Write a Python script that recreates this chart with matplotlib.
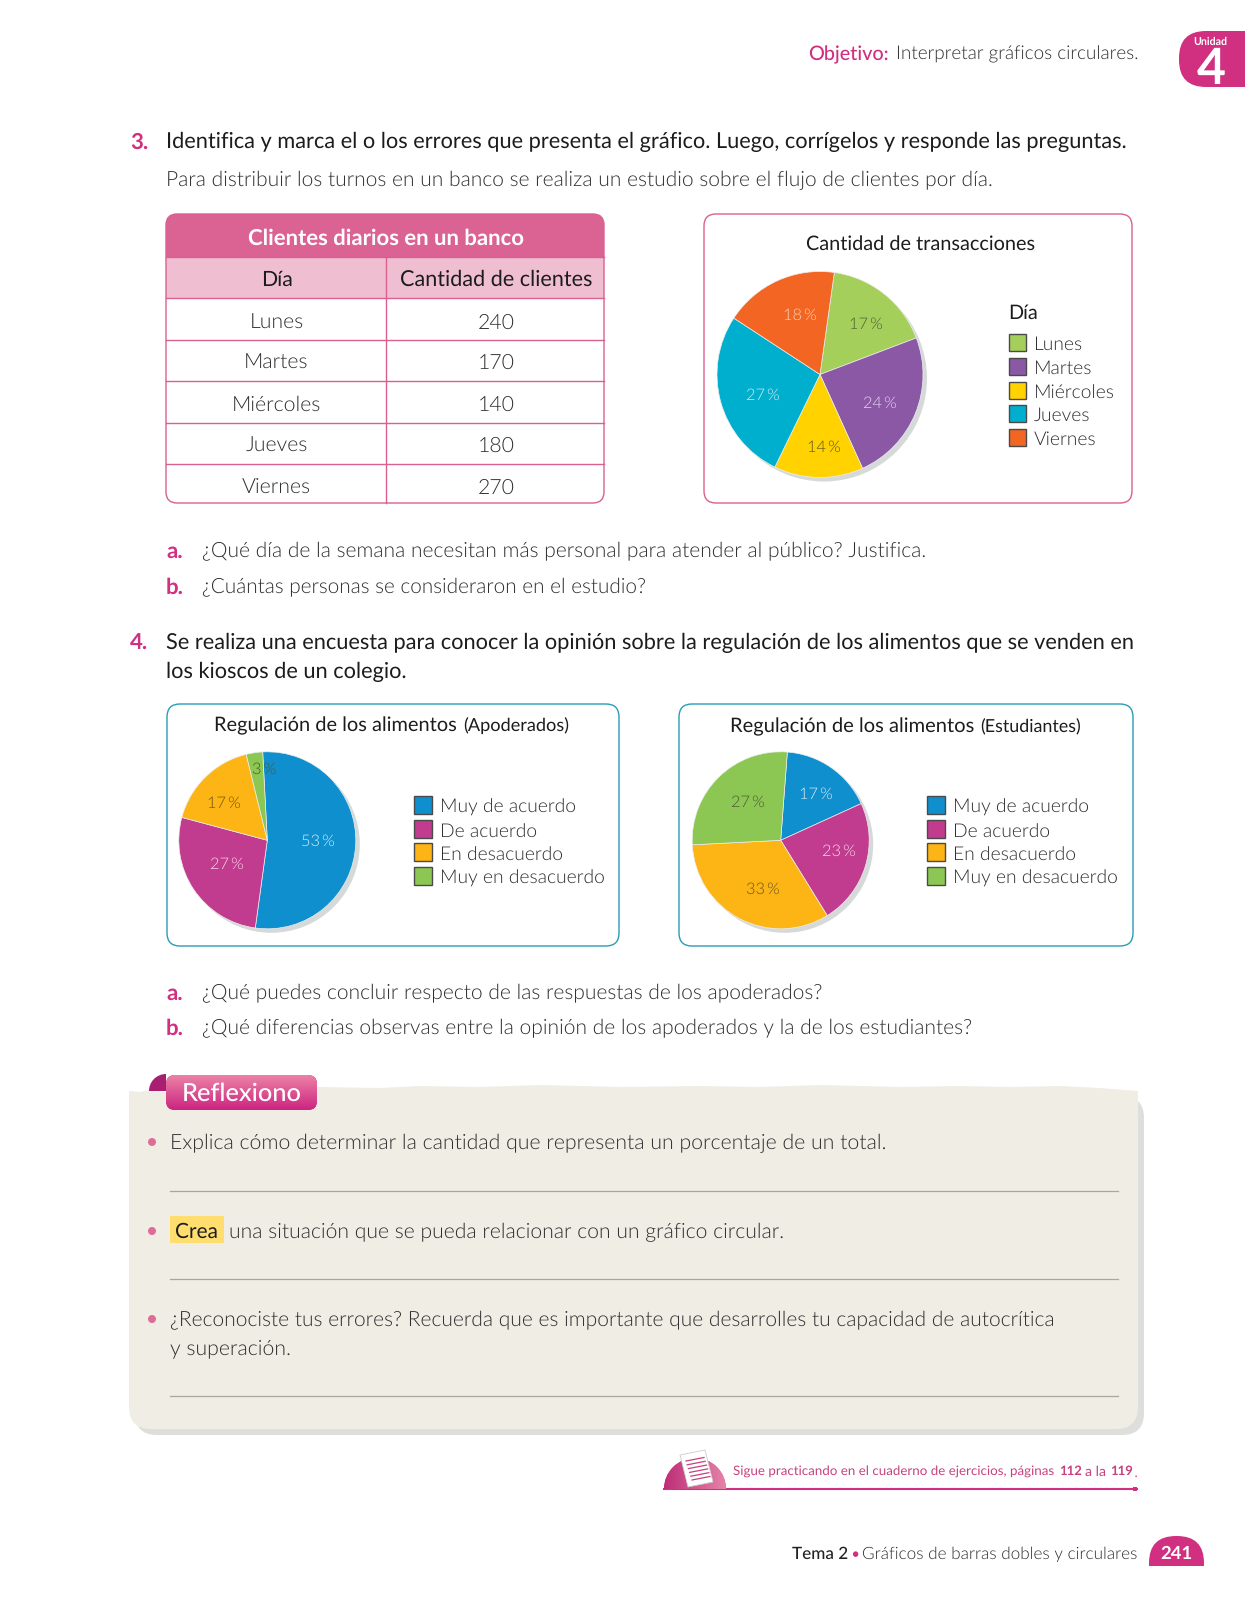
import numpy as np
import matplotlib
matplotlib.use('Agg')
import matplotlib.pyplot as plt
from matplotlib.patches import FancyBboxPatch, Rectangle, Circle, Polygon, Wedge

# tabla
tabla_titulo = 'Clientes diarios en un banco'
tabla_cols = ['Día', 'Cantidad de clientes']
dias = ['Lunes', 'Martes', 'Miércoles', 'Jueves', 'Viernes']
clientes = [240, 170, 140, 180, 270]

# graficos
transacciones = [17, 24, 14, 27, 18]
opciones = ['Muy de acuerdo', 'De acuerdo', 'En desacuerdo', 'Muy en desacuerdo']
apoderados = [53, 27, 17, 3]
estudiantes = [17, 23, 33, 27]

c_dias = ['#A5CF5B', '#8A58A4', '#FFD200', '#00AECE', '#F26522']
c_opc = ['#0F8FCE', '#C13B8E', '#FDB515', '#8CC653']

W, H = 1245, 1600
FONT = 'Lato'
ROSA = '#D0307F'
PINK2 = '#C8407F'
GRIS = '#2e2e2e'
NEGRO = '#1c1c1c'
LINEA = '#D9608F'
AZUL = '#2A9BB8'

plt.rcParams['text.hinting'] = 'no_hinting'
fig = plt.figure(figsize=(W / 100, H / 100), dpi=100)
ax = fig.add_axes([0, 0, 1, 1])
ax.set_xlim(0, W)
ax.set_ylim(H, 0)
ax.axis('off')
rend = fig.canvas.get_renderer()


def txt(x, y, s, x1=None, size=15.5, color=GRIS, weight=300, ha='left', fam=FONT, target=ax, z=6):
    # si viene x1 ajusta el tamaño para que el texto termine ahi
    dy = 1.5 if target is ax else 0
    t = target.text(x, y + dy, s, fontsize=size, color=color, fontweight=weight, ha=ha, va='center',
                    family=fam, zorder=z)
    if x1 is not None:
        for _ in range(3):
            w = t.get_window_extent(rend).width
            t.set_fontsize(t.get_fontsize() * (x1 - x) / w)
    return t


def caja(x0, y0, x1, y1, rad, fc='white', ec='none', lw=1.0, z=1):
    p = FancyBboxPatch((x0 + rad, y0 + rad), x1 - x0 - 2 * rad, y1 - y0 - 2 * rad,
                       boxstyle='round,pad=%f,rounding_size=%f' % (rad, rad),
                       fc=fc, ec=ec, lw=lw, zorder=z)
    ax.add_patch(p)
    return p


def degradado(patch, x0, y0, x1, y1, c_top, c_bot, horizontal=False, z=3):
    a = np.array(matplotlib.colors.to_rgb(c_top))
    b = np.array(matplotlib.colors.to_rgb(c_bot))
    n = np.linspace(0, 1, 60)[:, None]
    img = (a + (b - a) * n)[:, None, :]
    if horizontal:
        img = img.transpose(1, 0, 2)
    im = ax.imshow(img, extent=[x0, x1, y1, y0], aspect='auto', zorder=z)
    im.set_clip_path(patch)
    ax.set_xlim(0, W)
    ax.set_ylim(H, 0)


def torta(cx, cy, r, vals, cols, start, lab_xy, lab_col):
    ax.add_patch(Circle((cx + 4, cy + 4), r, fc='#D6D9D9', ec='none', zorder=2))
    s = 1.25 * r
    a = fig.add_axes([(cx - s) / W, 1 - (cy + s) / H, 2 * s / W, 2 * s / H], zorder=3)
    a.patch.set_alpha(0)
    a.pie(vals, colors=cols, startangle=start, counterclock=False,
          wedgeprops={'linewidth': 0.5, 'edgecolor': '#eeeeee'})
    for v, (lx, ly), c in zip(vals, lab_xy, lab_col):
        txt((lx - cx) / r, (cy - ly - 1) / r, '%d\u2009%%' % v, size=11.8, color=c, ha='center',
            fam=[FONT, 'DejaVu Sans'], target=a)


def leyenda(x, x_txt, ys, names, cols, w=17):
    for y, n, c in zip(ys, names, cols):
        ax.add_patch(Rectangle((x, y - w / 2), w, w, fc=c, ec='#4a4a4a', lw=1, zorder=2))
        txt(x_txt, y + 1, n, size=13.9)


# encabezado
txt(808, 53, 'Objetivo:', 889, color=ROSA, weight=500)
txt(896, 53, 'Interpretar gráficos circulares.', 1138)
caja(1179, 31, 1290, 87, 27, fc=ROSA)
txt(1193, 40, 'Unidad', 1227, size=7, color='white', weight='bold')
txt(1211, 68, '4', size=36, color='white', weight='bold', ha='center')

# pregunta 3
txt(130, 141, '3.', size=16, color=ROSA, weight='bold')
txt(166, 140.5, 'Identifica y marca el o los errores que presenta el gráfico. Luego, corrígelos y responde las preguntas.',
    1126, color=NEGRO, weight=400)
txt(166, 179, 'Para distribuir los turnos en un banco se realiza un estudio sobre el flujo de clientes por día.', 993)

# tabla
filas = [257, 298, 340, 381, 423, 464, 503]
filas_txt = [321.5, 362, 403.5, 444.5, 486.5]
caja(166, 214, 604, 503, 11, fc='white', z=1)
h1 = Rectangle((166, 214), 438, 43, fc='#DB6394', ec='none', zorder=1.5)
ax.add_patch(h1)
h1.set_clip_path(caja(166, 214, 604, 503, 11, fc='none', ec='none'))
ax.add_patch(Rectangle((166, 257), 438, 41, fc='#EFBFD1', ec='none', zorder=1.5))
for y in filas[:-1]:
    ax.plot([166, 604], [y, y], color=LINEA, lw=1.0, zorder=2)
ax.plot([386, 386], [257, 503], color=LINEA, lw=1.0, zorder=2)
caja(166, 214, 604, 503, 11, fc='none', ec=LINEA, lw=1.0, z=2)
txt(248, 237, tabla_titulo, 524, color='white', weight='bold')
txt(276.5, 278, tabla_cols[0], size=15.3, ha='center', weight=400, color=NEGRO)
txt(399.5, 278, tabla_cols[1], 592, weight=400, color=NEGRO)
for yc, d, c in zip(filas_txt, dias, clientes):
    txt(276.5, yc, d, size=15.3, ha='center')
    txt(496, yc, str(c), size=15.3, ha='center')

# grafico transacciones
caja(704, 214, 1132, 503, 12, ec=LINEA)
txt(805.6, 243, 'Cantidad de transacciones', 1034.5, weight=400, color=NEGRO)
torta(820, 374.5, 103, transacciones, c_dias, 82,
      [(866, 323), (880, 402), (824, 446), (763, 394), (800, 314)],
      ['#4d5c35', '#E6D5EF', '#5c5320', '#CFEFF6', '#FBD3B5'])
txt(1008, 312, 'Día', size=14.3, weight=400, color=NEGRO)
leyenda(1009, 1034, [342, 366, 390, 413, 437], dias, c_dias)

txt(166, 550, 'a.', size=16, color=ROSA, weight='bold')
txt(202, 550, '¿Qué día de la semana necesitan más personal para atender al público? Justifica.', 928)
txt(166, 586, 'b.', size=16, color=ROSA, weight='bold')
txt(202, 586, '¿Cuántas personas se consideraron en el estudio?', 648)

# pregunta 4
txt(130, 642, '4.', size=16, color=ROSA, weight='bold')
txt(166, 641.5, 'Se realiza una encuesta para conocer la opinión sobre la regulación de los alimentos que se venden en',
    1133, color=NEGRO, weight=400)
txt(166, 670.5, 'los kioscos de un colegio.', 407, color=NEGRO, weight=400)

caja(167, 704, 619, 946, 13, ec=AZUL)
txt(214, 724, 'Regulación de los alimentos', 457, weight=400, color=NEGRO)
txt(463, 725, '(Apoderados)', 569, weight=400, color=NEGRO)
torta(267.3, 840.3, 88.5, apoderados, c_opc, 93,
      [(318, 840), (227, 863), (224, 802), (264, 768)],
      ['#D5EEF8', '#F6D9EA', '#6b5418', '#4b5a35'])
leyenda(414, 440, [805, 829, 852, 876], opciones, c_opc, w=18)

caja(679, 704, 1133, 946, 13, ec=AZUL)
txt(730, 725, 'Regulación de los alimentos', 975, weight=400, color=NEGRO)
txt(980, 726, '(Estudiantes)', 1081, weight=400, color=NEGRO)
torta(780.7, 840.3, 88.5, estudiantes, c_opc, 85.7,
      [(816, 793), (839, 850), (763, 888), (748, 801)],
      ['#D5EEF8', '#F6D9EA', '#6b5418', '#4b5a35'])
leyenda(927, 953, [805, 829, 852, 876], opciones, c_opc, w=18)

txt(166, 992, 'a.', size=16, color=ROSA, weight='bold')
txt(202, 992, '¿Qué puedes concluir respecto de las respuestas de los apoderados?', 824)
txt(166, 1027, 'b.', size=16, color=ROSA, weight='bold')
txt(202, 1027, '¿Qué diferencias observas entre la opinión de los apoderados y la de los estudiantes?', 970)

# recuadro Reflexiono
caja(135, 1096, 1144, 1435, 22, fc='#DEDEDC', z=1)
caja(129, 1120, 1138, 1429, 22, fc='#F0EDE5', z=1.2)
borde_sup = [(129, 1091), (140, 1092), (150, 1090), (166, 1092), (320, 1087), (380, 1088), (420, 1086), (480, 1087),
             (540, 1085), (620, 1087), (700, 1086), (760, 1087), (820, 1085), (900, 1087), (960, 1086),
             (1010, 1087), (1060, 1086), (1100, 1088), (1138, 1091), (1138, 1150), (129, 1150)]
ax.add_patch(Polygon(borde_sup, closed=True, fc='#F0EDE5', ec='none', zorder=1.3))
ax.add_patch(Wedge((166, 1091), 17, 180, 270, fc='#A81F72', ec='none', zorder=1.4))
tab = caja(166, 1075, 317, 1110, 9, fc='#D0297F', z=2)
degradado(tab, 166, 1075, 317, 1110, '#EC82A6', '#CC2580')
txt(182, 1092, 'Reflexiono', 302, color='white', weight=500)

for y in [1142, 1231, 1319]:
    ax.add_patch(Circle((152, y), 4, fc='#DF6C98', ec='none', zorder=3))
for y in [1191, 1279, 1396]:
    ax.plot([170, 1118], [y, y], color='#A9A69E', lw=0.9, zorder=3)
ax.add_patch(Rectangle((170, 1216), 54, 27, fc='#FFDD6E', ec='none', zorder=2))
txt(170, 1142, 'Explica cómo determinar la cantidad que representa un porcentaje de un total.', 885)
txt(175, 1230, 'Crea', 218, color=NEGRO, weight=400)
txt(229, 1231, 'una situación que se pueda relacionar con un gráfico circular.', 783)
txt(170, 1319, '¿Reconociste tus errores? Recuerda que es importante que desarrolles tu capacidad de autocrítica', 1054)
txt(170, 1347, 'y superación.', 291)

# pie de pagina
icono = Wedge((695, 1489), 31, 180, 360, fc=ROSA, ec='none', zorder=2)
ax.add_patch(icono)
degradado(icono, 664, 1455, 726, 1489, '#BE2E78', '#E583A9', horizontal=True)
hoja = Polygon([(680, 1455), (705, 1450), (713, 1482), (688, 1487)], closed=True, fc='white', ec='#cccccc', lw=0.6, zorder=4)
ax.add_patch(hoja)
for k in range(6):
    ax.plot([686 + k * 1.2, 704 + k * 1.2], [1461 + k * 3.8, 1457.5 + k * 3.8], color=PINK2, lw=0.9, zorder=5)
ax.plot([664, 1137], [1489, 1489], color=ROSA, lw=1.5, zorder=2)
ax.add_patch(Rectangle((1133, 1487), 4, 4, fc=ROSA, ec='none', zorder=3))
txt(733, 1470, 'Sigue practicando en el cuaderno de ejercicios, páginas', 1055, color=PINK2, weight=400)
txt(1059, 1470, '112', 1082, color=PINK2, weight='bold')
txt(1085, 1470, 'a la', 1106, color=PINK2, weight=400)
txt(1110, 1470, '119', 1133, color=PINK2, weight='bold')
txt(1134, 1470, '.', color=PINK2, size=13)

txt(792, 1553, 'Tema 2', 848, color='#222222', weight=500)
txt(851, 1553, '•', color=ROSA, weight='bold', size=9)
txt(862, 1553, 'Gráficos de barras dobles y circulares', 1138)
arco = FancyBboxPatch((1149 + 27, 1536 + 27), 1, 40,
                      boxstyle='round,pad=27,rounding_size=27', fc=ROSA, ec='none', zorder=2)
ax.add_patch(arco)
arco.set_clip_path(Rectangle((1140, 1530), 80, 36, transform=ax.transData))
txt(1160, 1552, '241', 1192, color='white', weight='bold')

fig.savefig('out.png', dpi=100)
